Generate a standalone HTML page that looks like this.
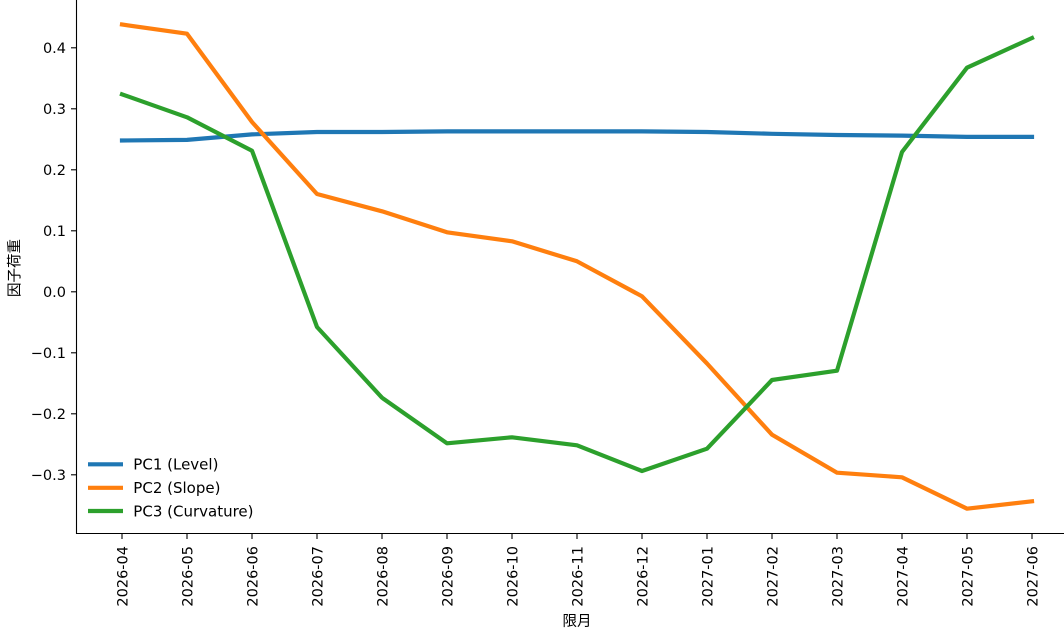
<!DOCTYPE html>
<html>
<head>
<meta charset="utf-8">
<style>
  html, body { margin: 0; padding: 0; background: #ffffff; }
  svg { display: block; }
  text { font-family: "DejaVu Sans", "Liberation Sans", "Noto Sans CJK JP", sans-serif; fill: #000; }
  .cjk { font-family: "Noto Sans CJK JP", "DejaVu Sans", sans-serif; }
</style>
</head>
<body>
<svg width="1064" height="633" viewBox="0 0 1064 633" xmlns="http://www.w3.org/2000/svg">
  <rect x="0" y="0" width="1064" height="633" fill="#ffffff"/>

  <!-- series -->
  <polyline fill="none" stroke="#1f77b4" stroke-width="4.2" stroke-linejoin="round" stroke-linecap="square"
    points="122,140.5 187,139.9 252,134.4 317,132.0 382,132.0 447,131.4 512,131.4 577,131.4 642,131.4 707,132.0 772,133.8 837,135.0 902,135.6 967,136.9 1032,136.9"/>
  <polyline fill="none" stroke="#ff7f0e" stroke-width="4.2" stroke-linejoin="round" stroke-linecap="square"
    points="122,24.5 187,33.7 252,122 317,194 382,211.3 447,232.3 512,241.3 577,261.3 642,296.3 707,363.5 772,434.7 837,472.7 902,477.3 967,508.7 1032,501.3"/>
  <polyline fill="none" stroke="#2ca02c" stroke-width="4.2" stroke-linejoin="round" stroke-linecap="square"
    points="122,94.3 187,117.3 252,150.7 317,327 382,397.7 447,443.3 512,437.3 577,445.3 642,471 707,448.7 772,380 837,370.7 902,152 967,67.7 1032,38"/>

  <!-- spines -->
  <line x1="76.5" y1="0" x2="76.5" y2="534" stroke="#000" stroke-width="1.1"/>
  <line x1="76" y1="533.5" x2="1064" y2="533.5" stroke="#000" stroke-width="1.1"/>

  <!-- y ticks -->
  <g stroke="#000" stroke-width="1.1">
    <line x1="71" y1="47.8" x2="76.5" y2="47.8"/>
    <line x1="71" y1="108.8" x2="76.5" y2="108.8"/>
    <line x1="71" y1="169.8" x2="76.5" y2="169.8"/>
    <line x1="71" y1="230.8" x2="76.5" y2="230.8"/>
    <line x1="71" y1="291.8" x2="76.5" y2="291.8"/>
    <line x1="71" y1="352.8" x2="76.5" y2="352.8"/>
    <line x1="71" y1="413.8" x2="76.5" y2="413.8"/>
    <line x1="71" y1="474.8" x2="76.5" y2="474.8"/>
  </g>
  <g font-size="14.5" text-anchor="end">
    <text x="66" y="53">0.4</text>
    <text x="66" y="114">0.3</text>
    <text x="66" y="175">0.2</text>
    <text x="66" y="236">0.1</text>
    <text x="66" y="297">0.0</text>
    <text x="66" y="358">−0.1</text>
    <text x="66" y="419">−0.2</text>
    <text x="66" y="480">−0.3</text>
  </g>

  <!-- x ticks -->
  <g stroke="#000" stroke-width="1.1">
    <line x1="122" y1="533.5" x2="122" y2="539"/>
    <line x1="187" y1="533.5" x2="187" y2="539"/>
    <line x1="252" y1="533.5" x2="252" y2="539"/>
    <line x1="317" y1="533.5" x2="317" y2="539"/>
    <line x1="382" y1="533.5" x2="382" y2="539"/>
    <line x1="447" y1="533.5" x2="447" y2="539"/>
    <line x1="512" y1="533.5" x2="512" y2="539"/>
    <line x1="577" y1="533.5" x2="577" y2="539"/>
    <line x1="642" y1="533.5" x2="642" y2="539"/>
    <line x1="707" y1="533.5" x2="707" y2="539"/>
    <line x1="772" y1="533.5" x2="772" y2="539"/>
    <line x1="837" y1="533.5" x2="837" y2="539"/>
    <line x1="902" y1="533.5" x2="902" y2="539"/>
    <line x1="967" y1="533.5" x2="967" y2="539"/>
    <line x1="1032" y1="533.5" x2="1032" y2="539"/>
  </g>
  <g font-size="14.5" text-anchor="end">
    <text transform="translate(127.3,546) rotate(-90)">2026-04</text>
    <text transform="translate(192.3,546) rotate(-90)">2026-05</text>
    <text transform="translate(257.3,546) rotate(-90)">2026-06</text>
    <text transform="translate(322.3,546) rotate(-90)">2026-07</text>
    <text transform="translate(387.3,546) rotate(-90)">2026-08</text>
    <text transform="translate(452.3,546) rotate(-90)">2026-09</text>
    <text transform="translate(517.3,546) rotate(-90)">2026-10</text>
    <text transform="translate(582.3,546) rotate(-90)">2026-11</text>
    <text transform="translate(647.3,546) rotate(-90)">2026-12</text>
    <text transform="translate(712.3,546) rotate(-90)">2027-01</text>
    <text transform="translate(777.3,546) rotate(-90)">2027-02</text>
    <text transform="translate(842.3,546) rotate(-90)">2027-03</text>
    <text transform="translate(907.3,546) rotate(-90)">2027-04</text>
    <text transform="translate(972.3,546) rotate(-90)">2027-05</text>
    <text transform="translate(1037.3,546) rotate(-90)">2027-06</text>
  </g>

  <!-- axis labels -->
  <text class="cjk" font-size="14.5" text-anchor="middle" x="577" y="626">限月</text>
  <text class="cjk" font-size="14.5" text-anchor="middle" transform="translate(19.5,268) rotate(-90)">因子荷重</text>

  <!-- legend -->
  <g stroke-width="4.2" stroke-linecap="butt">
    <line x1="88" y1="464.3" x2="123" y2="464.3" stroke="#1f77b4"/>
    <line x1="88" y1="487.8" x2="123" y2="487.8" stroke="#ff7f0e"/>
    <line x1="88" y1="511" x2="123" y2="511" stroke="#2ca02c"/>
  </g>
  <g font-size="15">
    <text x="133.3" y="469.7">PC1 (Level)</text>
    <text x="133.3" y="493.2">PC2 (Slope)</text>
    <text x="133.3" y="516.5">PC3 (Curvature)</text>
  </g>
</svg>
</body>
</html>
